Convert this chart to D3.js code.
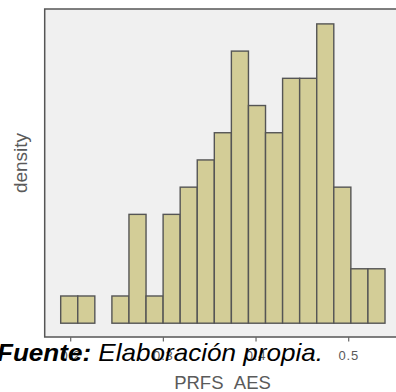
<!DOCTYPE html>
<html>
<head>
<meta charset="utf-8">
<script src="https://cdn.jsdelivr.net/npm/d3@7"></script>
<style>
  body { margin: 0; background: #fff; }
  svg { display: block; }
</style>
</head>
<body>
<script>
// histogram bins
var binStart = 0.1892;
var binWidth = 0.01842;
var counts = [1, 1, 0, 1, 4, 1, 4, 5, 6, 7, 10, 8, 7, 9, 9, 11, 5, 2, 2];
var xTicks = [0.2, 0.3, 0.4, 0.5];

var width = 396, height = 392;

var svg = d3.select("body")
    .append("svg")
    .attr("width", width)
    .attr("height", height);

var x = d3.scaleLinear()
    .domain([0.2, 0.5])
    .range([70.7, 348.7]);

var y = d3.scaleLinear()
    .domain([0, 11])
    .range([323.2, 23.9]);

var panelLeft = 44.7, panelTop = 9, panelBottom = 337;

// panel background
svg.append("rect")
    .attr("x", panelLeft)
    .attr("y", panelTop)
    .attr("width", width - panelLeft + 10)
    .attr("height", panelBottom - panelTop)
    .attr("fill", "#f0f0f0");

// bars
svg.append("g")
    .selectAll("rect")
    .data(counts)
    .enter()
    .append("rect")
    .attr("x", function (d, i) { return x(binStart + i * binWidth); })
    .attr("y", function (d) { return y(d); })
    .attr("width", function (d, i) { return x(binStart + (i + 1) * binWidth) - x(binStart + i * binWidth); })
    .attr("height", function (d) { return y(0) - y(d); })
    .attr("fill", function (d) { return d > 0 ? "#d3cd97" : "none"; })
    .attr("stroke", function (d) { return d > 0 ? "#555" : "none"; })
    .attr("stroke-width", 1.4);

// panel border (top, left, bottom)
svg.append("path")
    .attr("d", "M" + (width + 5) + "," + panelTop + "H" + panelLeft + "V" + panelBottom + "H" + (width + 5))
    .attr("fill", "none")
    .attr("stroke", "#555")
    .attr("stroke-width", 1.5);

// x axis ticks + labels
var xAxis = svg.append("g");
xAxis.selectAll("line")
    .data(xTicks)
    .enter()
    .append("line")
    .attr("x1", function (d) { return x(d); })
    .attr("x2", function (d) { return x(d); })
    .attr("y1", panelBottom)
    .attr("y2", panelBottom + 4.5)
    .attr("stroke", "#666")
    .attr("stroke-width", 1.2);

xAxis.selectAll("text")
    .data(xTicks)
    .enter()
    .append("text")
    .attr("x", function (d) { return x(d); })
    .attr("y", 359.5)
    .attr("text-anchor", "middle")
    .attr("font-family", "Liberation Sans, Arial, sans-serif")
    .attr("font-size", 13)
    .attr("letter-spacing", 0.8)
    .attr("fill", "#5a5a5a")
    .text(function (d) { return d3.format(".1f")(d); });

// axis titles
svg.append("text")
    .attr("x", 222.5)
    .attr("y", 389)
    .attr("text-anchor", "middle")
    .attr("font-family", "Liberation Sans, Arial, sans-serif")
    .attr("font-size", 18.5)
    .attr("fill", "#5a5a5a")
    .text("PRFS_AES");

svg.append("text")
    .attr("transform", "translate(26.5,163) rotate(-90)")
    .attr("text-anchor", "middle")
    .attr("font-family", "Liberation Sans, Arial, sans-serif")
    .attr("font-size", 19)
    .attr("fill", "#5a5a5a")
    .text("density");

// caption laid over the axis
var caption = svg.append("text")
    .attr("x", -3)
    .attr("y", 361)
    .attr("font-family", "Liberation Sans, Arial, sans-serif")
    .attr("font-size", 24)
    .attr("font-style", "italic")
    .attr("fill", "#000")
    .attr("textLength", 326)
    .attr("lengthAdjust", "spacingAndGlyphs");
caption.append("tspan").attr("font-weight", "bold").text("Fuente:");
caption.append("tspan").text(" Elaboración propia.");
</script>
</body>
</html>
